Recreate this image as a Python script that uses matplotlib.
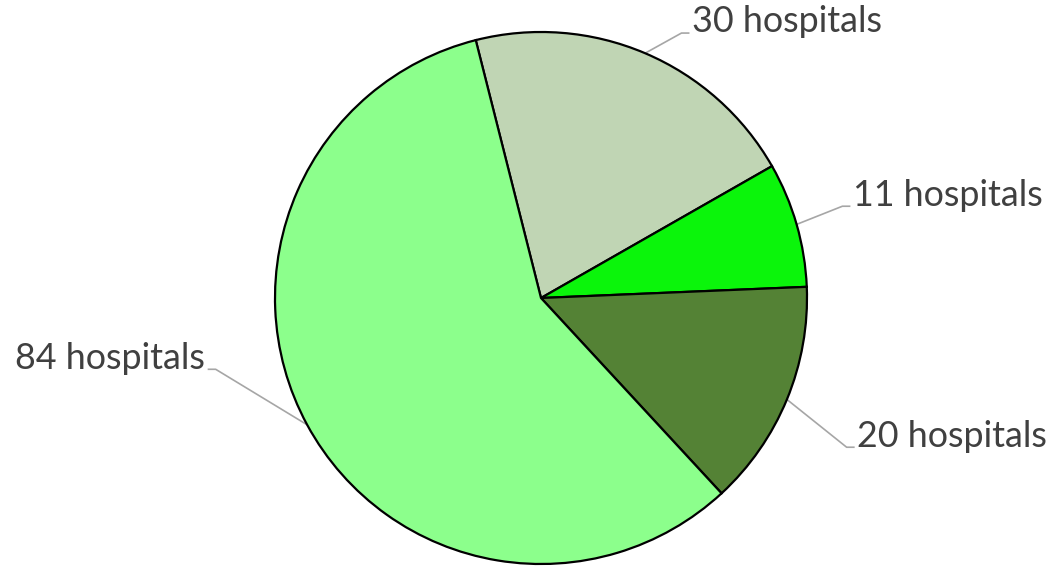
import numpy as np
import matplotlib
matplotlib.use("Agg")
from matplotlib import pyplot as plt

counts = [30, 11, 20, 84]
labels = ["30 hospitals", "11 hospitals", "20 hospitals", "84 hospitals"]
colors = ["#C0D5B4", "#0BF50B", "#548235", "#8CFF8C"]

# label text anchors (data units, pie radius = 1)
text_pos = [(0.568, 1.038), (1.173, 0.387), (1.189, -0.519), (-1.263, -0.226)]

fig = plt.figure(figsize=(10.54, 5.68), dpi=100)
ax = fig.add_axes([0, 0, 1, 1])
start = 104.2
wedges, _ = ax.pie(counts, colors=colors, startangle=start, counterclock=False,
                   radius=1, center=(0, 0),
                   wedgeprops=dict(edgecolor="black", linewidth=1.6))

ax.set_xlim(-541 / 266, (1054 - 541) / 266)
ax.set_ylim((298 - 568) / 266, 298 / 266)
ax.set_aspect("auto")
ax.axis("off")

for w, lab, (tx, ty) in zip(wedges, labels, text_pos):
    mid = np.deg2rad((w.theta1 + w.theta2) / 2)
    x0, y0 = np.cos(mid), np.sin(mid)
    side = 1 if tx > 0 else -1
    ey = ty - 0.042
    ax.plot([x0, tx - side * 0.04, tx - side * 0.013], [y0, ey, ey],
            color="#A6A6A6", lw=1.2, zorder=0.5, clip_on=False)
    ax.text(tx, ty, lab, ha="left" if side > 0 else "right", va="center",
            fontsize=25.8, color="#404040", family=["Lato", "DejaVu Sans"])

fig.savefig("out.png", dpi=100, facecolor="white")
